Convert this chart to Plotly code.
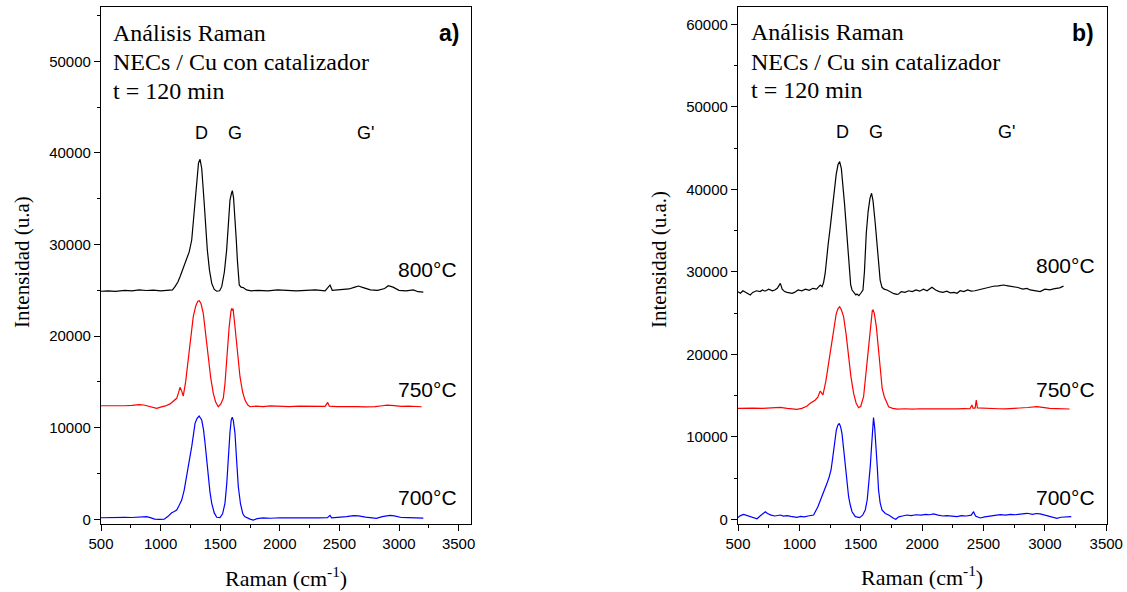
import plotly.graph_objects as go

# ---------------- data ----------------
# Panel a) NECs / Cu con catalizador
a_800 = [(500,24900),(560,24950),(620,24880),(700,25000),(760,24950),(820,25050),(880,24980),(940,25020),
         (1000,24950),(1060,25000),(1100,25050),(1121,25400),(1145,25900),(1163,26480),(1190,27400),(1219,28300),
         (1240,29200),(1261,30490),(1275,32500),(1289,34860),(1305,37300),(1318,38900),(1331,39300),(1345,38300),
         (1364,34860),(1378,32000),(1392,29400),(1410,27200),(1429,25760),(1450,25100),(1471,24900),(1495,24950),
         (1513,25400),(1535,27000),(1554,29400),(1570,32500),(1582,34860),(1595,35600),(1602,35880),(1612,35100),
         (1624,33030),(1635,30500),(1644,28300),(1652,26800),(1660,25580),(1675,25350),(1693,25300),(1720,25050),
         (1760,24950),(1820,25000),(1900,24950),(1980,25050),(2060,24980),(2140,24950),(2220,25000),(2300,25050),
         (2380,24950),(2421,25580),(2440,25000),(2500,25050),(2580,25150),(2630,25350),(2659,25470),(2700,25300),
         (2760,25050),(2820,25000),(2880,25200),(2910,25500),(2950,25350),(3000,25000),(3060,24950),(3120,25050),
         (3160,24850),(3204,24800)]
a_750 = [(500,12400),(560,12380),(620,12420),(700,12400),(760,12450),(820,12520),(860,12480),(900,12350),
         (940,12200),(967,12120),(1000,12250),(1040,12380),(1079,12600),(1110,12900),(1135,13210),(1150,13800),
         (1163,14410),(1177,14000),(1190,13460),(1210,15000),(1232,17390),(1255,20000),(1274,22120),(1295,23300),
         (1312,23800),(1325,23870),(1340,23500),(1358,22490),(1380,20300),(1400,17750),(1420,15500),(1442,13750),
         (1462,12800),(1484,12290),(1505,12600),(1526,13210),(1540,14800),(1554,17750),(1575,21000),(1590,22700),
         (1596,23030),(1602,22800),(1608,23000),(1624,21030),(1645,18200),(1666,15570),(1688,13900),(1708,13020),
         (1730,12500),(1750,12290),(1800,12350),(1860,12300),(1920,12380),(2000,12330),(2080,12300),(2160,12350),
         (2240,12320),(2320,12300),(2380,12330),(2402,12770),(2415,12350),(2480,12300),(2560,12330),(2640,12300),
         (2720,12280),(2800,12300),(2860,12400),(2900,12470),(2960,12420),(3020,12330),(3080,12350),(3140,12300),
         (3190,12290)]
a_700 = [(500,175),(560,200),(620,180),(700,220),(760,200),(820,210),(883,290),(920,150),(950,30),(990,0),
         (1030,20),(1060,300),(1093,720),(1115,850),(1135,1010),(1155,1500),(1177,2100),(1198,3200),(1219,4650),
         (1240,6200),(1261,7930),(1275,9200),(1289,10480),(1305,11000),(1323,11280),(1345,10840),(1360,9800),
         (1373,8300),(1387,6400),(1400,4650),(1414,3000),(1429,1750),(1450,700),(1471,220),(1498,180),(1520,600),
         (1540,1750),(1555,3900),(1568,6840),(1582,9500),(1592,10800),(1601,11140),(1610,10800),(1624,9390),
         (1638,6400),(1652,3560),(1670,1700),(1689,640),(1705,300),(1722,180),(1750,20),(1777,-80),(1810,80),
         (1860,150),(1920,120),(2000,170),(2080,150),(2160,180),(2240,160),(2320,150),(2400,180),(2421,430),
         (2435,170),(2500,200),(2560,300),(2617,400),(2660,380),(2720,250),(2780,200),(2810,110),(2860,300),
         (2924,430),(2960,380),(3020,200),(3080,180),(3140,150),(3204,140)]

# Panel b) NECs / Cu sin catalizador
b_800 = [(500,27590),(520,27400),(540,27700),(560,27500),(580,27300),(600,27200),(620,27500),(650,27700),
         (680,27600),(700,27800),(720,27650),(750,27900),(780,27700),(800,27800),(820,28000),(845,28600),
         (860,27900),(880,27600),(900,27500),(920,27450),(940,27390),(960,27500),(990,27800),(1020,27700),
         (1050,27900),(1080,27750),(1110,28000),(1140,27900),(1170,28400),(1185,28200),(1197,28700),(1210,29800),
         (1219,31430),(1235,33400),(1252,35470),(1268,37800),(1284,39920),(1300,41800),(1315,43000),(1328,43350),
         (1342,42500),(1355,40730),(1368,38200),(1382,35470),(1395,32500),(1407,29820),(1418,28400),(1429,27790),
         (1445,27500),(1460,27200),(1469,27310),(1485,27100),(1500,27400),(1518,27790),(1530,30000),(1545,34670),
         (1560,37300),(1575,38900),(1588,39520),(1600,38600),(1618,35880),(1632,33100),(1645,30620),(1658,29000),
         (1673,28120),(1690,27900),(1714,27790),(1740,27600),(1770,27350),(1795,27270),(1808,27310),(1830,27600),
         (1860,27500),(1890,27700),(1920,27600),(1950,27800),(1980,27650),(2010,27900),(2040,27700),(2080,28120),
         (2110,27800),(2140,27600),(2170,27500),(2200,27650),(2230,27450),(2260,27500),(2284,27390),(2310,27700),
         (2340,27600),(2370,27800),(2400,27650),(2430,27700),(2460,27800),(2500,28000),(2540,28100),(2580,28250),
         (2620,28300),(2663,28400),(2700,28300),(2740,28200),(2780,28100),(2820,27900),(2854,27990),(2880,27800),
         (2920,27700),(2962,27600),(3000,27900),(3040,27800),(3080,27950),(3120,28050),(3152,28260)]
b_750 = [(500,13450),(560,13420),(620,13480),(700,13450),(760,13500),(845,13570),(900,13450),(940,13350),
         (980,13330),(1020,13450),(1060,13700),(1089,14060),(1110,14250),(1130,14460),(1150,14800),(1170,15550),
         (1182,15300),(1192,15070),(1215,16700),(1238,18910),(1260,21300),(1279,23350),(1300,24900),(1315,25550),
         (1328,25770),(1342,25400),(1360,24560),(1380,22500),(1401,19710),(1420,17300),(1442,15270),(1462,14100),
         (1482,13530),(1500,13700),(1523,14860),(1543,17800),(1564,21730),(1582,24300),(1594,25300),(1600,25370),
         (1610,25000),(1627,23350),(1643,20500),(1659,17700),(1675,15800),(1692,14860),(1710,14100),(1727,13650),
         (1760,13450),(1800,13350),(1860,13400),(1920,13350),(1980,13400),(2040,13380),(2100,13400),(2160,13350),
         (2220,13400),(2280,13380),(2340,13420),(2390,13400),(2405,13860),(2415,13450),(2432,13500),(2441,14460),
         (2450,13500),(2500,13450),(2560,13420),(2620,13400),(2680,13380),(2740,13420),(2800,13450),(2860,13550),
         (2935,13650),(2980,13550),(3040,13450),(3100,13420),(3160,13400),(3201,13370)]
b_700 = [(500,200),(520,450),(546,600),(570,500),(600,350),(630,200),(655,60),(680,400),(700,600),(722,920),
         (740,700),(770,500),(800,400),(820,450),(845,520),(870,380),(900,450),(930,350),(955,300),(980,240),
         (1010,350),(1040,300),(1070,400),(1090,450),(1116,520),(1150,1500),(1184,2740),(1205,3500),(1225,4360),
         (1242,5100),(1258,5980),(1272,7500),(1284,9210),(1301,10820),(1313,11400),(1325,11630),(1336,11200),
         (1347,10420),(1360,8600),(1374,6380),(1388,4400),(1401,2740),(1415,1700),(1429,920),(1456,320),
         (1475,250),(1491,200),(1515,500),(1537,1130),(1553,2400),(1567,4360),(1578,6500),(1586,8400),
         (1595,10800),(1604,12320),(1614,11000),(1624,9210),(1635,6200),(1645,3550),(1658,2000),(1673,1130),
         (1700,700),(1727,520),(1750,250),(1767,120),(1785,0),(1810,300),(1840,400),(1877,520),(1910,450),
         (1950,550),(1990,500),(2030,600),(2060,550),(2093,650),(2130,500),(2170,400),(2200,450),(2240,380),
         (2284,320),(2320,450),(2360,400),(2400,500),(2419,920),(2435,400),(2473,160),(2510,300),(2550,400),
         (2590,450),(2636,560),(2680,500),(2720,600),(2760,550),(2800,650),(2854,730),(2900,600),(2930,700),
         (2962,650),(3000,500),(3040,400),(3070,300),(3098,120),(3130,250),(3170,300),(3215,320)]

temps = ["800°C", "750°C", "700°C"]
colors = ["black", "red", "blue"]
peak_labels = ["D", "G", "G'"]
titles_a = ["Análisis Raman", "NECs / Cu con catalizador", "t = 120 min"]
titles_b = ["Análisis Raman", "NECs / Cu sin catalizador", "t = 120 min"]
x_ticks = [500, 1000, 1500, 2000, 2500, 3000, 3500]

# ---------------- figure ----------------
W, H = 1127, 592
MT, MB = 7, 68
PH = H - MT - MB

def px(x):
    return x / W

def py(y):
    return (H - MB - y) / PH

fig = go.Figure()
for series, col, name in zip([a_800, a_750, a_700], colors, temps):
    fig.add_trace(go.Scatter(x=[p[0] for p in series], y=[p[1] for p in series], mode="lines",
                             line=dict(color=col, width=1.2), name=name, xaxis="x", yaxis="y",
                             showlegend=False))
for series, col, name in zip([b_800, b_750, b_700], colors, temps):
    fig.add_trace(go.Scatter(x=[p[0] for p in series], y=[p[1] for p in series], mode="lines",
                             line=dict(color=col, width=1.2), name=name, xaxis="x2", yaxis="y2",
                             showlegend=False))

tickfont = dict(family="Liberation Sans, Arial", size=15, color="black")

def xax(domain, rng, anchor):
    return dict(domain=domain, range=rng, anchor=anchor, tickvals=x_ticks, ticks="outside",
                ticklen=6, tickwidth=1, tickcolor="black", showline=True, linecolor="black",
                linewidth=1.2, mirror=True, showgrid=False, zeroline=False, tickfont=tickfont,
                automargin=False,
                minor=dict(dtick=250, tick0=500, ticks="outside", ticklen=3, tickcolor="black"))

def yax(domain, rng, anchor, dtick):
    return dict(domain=domain, range=rng, anchor=anchor, dtick=dtick, tick0=0, ticks="outside",
                ticklen=6, tickwidth=1, tickcolor="black", showline=True, linecolor="black",
                linewidth=1.2, mirror=True, showgrid=False, zeroline=False, tickfont=tickfont,
                automargin=False,
                minor=dict(dtick=dtick / 2, ticks="outside", ticklen=3, tickcolor="black"),
                tickformat="d")

fig.update_layout(
    width=W, height=H,
    margin=dict(l=0, r=0, t=MT, b=MB, autoexpand=False),
    paper_bgcolor="white", plot_bgcolor="white",
    xaxis=xax([101 / W, 471 / W], [500, 3604], "y"),
    yaxis=yax([0, 1], [-510, 55930], "x", 10000),
    xaxis2=xax([738 / W, 1107 / W], [500, 3506], "y2"),
    yaxis2=yax([0, 1], [-570, 62097], "x2", 10000),
    showlegend=False,
)

serif = "Liberation Serif, Times New Roman, serif"
sans = "Liberation Sans, Arial, sans-serif"
ann = []

def add(text, x, y, size, family, xanchor="center", yanchor="middle", angle=0, bold=False):
    if bold:
        text = "<b>" + text + "</b>"
    ann.append(dict(text=text, x=px(x), y=py(y), xref="paper", yref="paper", showarrow=False,
                    xanchor=xanchor, yanchor=yanchor, textangle=angle,
                    font=dict(family=family, size=size, color="black")))

for t, yy in zip(titles_a, [33, 62, 91]):
    add(t, 111, yy, 24, serif, xanchor="left")
for t, yy in zip(titles_b, [32, 62, 90]):
    add(t, 749, yy, 24, serif, xanchor="left")
add("a)", 461, 33, 23, sans, xanchor="right", bold=True)
add("b)", 1096, 33, 23, sans, xanchor="right", bold=True)

for lbl, xx in zip(peak_labels, [201.7, 235, 365]):
    add(lbl, xx, 133, 18, sans)
for lbl, xx in zip(peak_labels, [842.7, 876, 1006]):
    add(lbl, xx, 132, 18, sans)

for t, yy in zip(temps, [269, 389, 497]):
    add(t, 459, yy, 21, sans, xanchor="right")
for t, yy in zip(temps, [265, 389, 497]):
    add(t, 1097, yy, 21, sans, xanchor="right")

add("Raman (cm<sup>-1</sup>)", 285.5, 577, 22, serif)
add("Raman (cm<sup>-1</sup>)", 921.7, 576, 22, serif)
add("Intensidad (u.a)", 22, 262, 21, serif, angle=-90)
add("Intensidad (u.a.)", 659, 260, 21, serif, angle=-90)

fig.update_layout(annotations=ann)
fig.write_html("out.html", config={"displayModeBar": False},
               post_script="document.body.style.margin='0';")
